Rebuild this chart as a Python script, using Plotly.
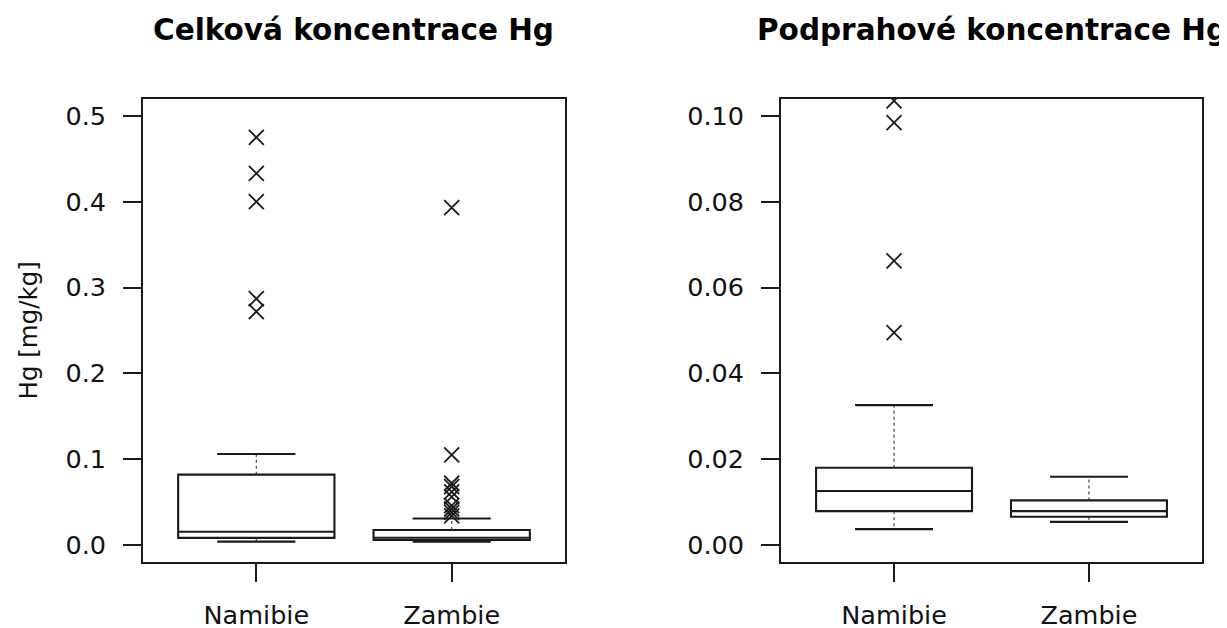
import plotly.graph_objects as go

# ---------------- data ----------------
categories = ["Namibie", "Zambie"]
cat_pos = [0, 1]

# Panel 1: Celková koncentrace Hg
total_q1 = [0.0084, 0.0058]
total_median = [0.0155, 0.0085]
total_q3 = [0.082, 0.0175]
total_lower = [0.004, 0.004]
total_upper = [0.106, 0.031]
total_out_namibie = [0.475, 0.433, 0.400, 0.287, 0.272]
total_out_zambie = [0.393, 0.105, 0.072, 0.068, 0.062, 0.056, 0.046, 0.042, 0.038, 0.034]

# Panel 2: Podprahové koncentrace Hg
sub_q1 = [0.0079, 0.0066]
sub_median = [0.0126, 0.0079]
sub_q3 = [0.0180, 0.0104]
sub_lower = [0.0037, 0.0054]
sub_upper = [0.0326, 0.0159]
sub_out_namibie = [0.1035, 0.0984, 0.0662, 0.0495]
sub_out_zambie = []

titles = ["Celková koncentrace Hg", "Podprahové koncentrace Hg"]
y_title = "Hg [mg/kg]"
total_ticks = [0.0, 0.1, 0.2, 0.3, 0.4, 0.5]
sub_ticks = [0.00, 0.02, 0.04, 0.06, 0.08, 0.10]

# ---------------- style ----------------
FONT = "DejaVu Sans"
INK = "#1a1a1a"
BOX_W = 0.8
STAPLE = 0.5
OFF = 8                      # page body margin (x)
OFFY = 6                     # effective vertical offset
W, H = 1227 - OFF, 628 - OFFY

fig = go.Figure()


def add_panel(xa, ya, q1, med, q3, lo, hi, out_n, out_z):
    fig.add_trace(go.Box(
        x=cat_pos, q1=q1, median=med, q3=q3, lowerfence=q1, upperfence=q3,
        width=BOX_W, whiskerwidth=0, fillcolor="white",
        line=dict(color=INK, width=2.1), boxpoints=False,
        xaxis=xa, yaxis=ya, showlegend=False, hoverinfo="skip"))
    # whiskers (dashed)
    wx, wy = [], []
    for p, a, b, c, d in zip(cat_pos, q1, q3, lo, hi):
        wx += [p, p, None, p, p, None]
        wy += [b, d, None, a, c, None]
    fig.add_trace(go.Scatter(x=wx, y=wy, mode="lines",
                             line=dict(color="#333", width=1.1, dash="dot"),
                             xaxis=xa, yaxis=ya, showlegend=False, hoverinfo="skip"))
    # staples
    sx, sy = [], []
    half = BOX_W * STAPLE / 2
    for p, c, d in zip(cat_pos, lo, hi):
        sx += [p - half, p + half, None, p - half, p + half, None]
        sy += [d, d, None, c, c, None]
    fig.add_trace(go.Scatter(x=sx, y=sy, mode="lines",
                             line=dict(color=INK, width=2.1),
                             xaxis=xa, yaxis=ya, showlegend=False, hoverinfo="skip"))
    # outliers
    ox = [cat_pos[0]] * len(out_n) + [cat_pos[1]] * len(out_z)
    oy = list(out_n) + list(out_z)
    fig.add_trace(go.Scatter(x=ox, y=oy, mode="markers",
                             marker=dict(symbol="x-thin-open", size=15, color=INK,
                                         line=dict(color=INK, width=1.8)),
                             xaxis=xa, yaxis=ya, showlegend=False, hoverinfo="skip"))


add_panel("x", "y", total_q1, total_median, total_q3, total_lower, total_upper,
          total_out_namibie, total_out_zambie)
add_panel("x2", "y2", sub_q1, sub_median, sub_q3, sub_lower, sub_upper,
          sub_out_namibie, sub_out_zambie)

dom1 = [(143 - OFF) / W, (565 - OFF) / W]
dom2 = [(781 - OFF) / W, (1202 - OFF) / W]
ydom = [1 - (562 - OFFY) / H, 1 - (97 - OFFY) / H]

axis_common = dict(showline=True, mirror=True, linecolor=INK, linewidth=1.8,
                   ticks="outside", ticklen=18, tickwidth=1.8, tickcolor=INK,
                   showgrid=False, zeroline=False,
                   tickfont=dict(family=FONT, size=25.5, color="#111"))

fig.update_layout(
    width=W, height=H,
    margin=dict(l=0, r=0, t=0, b=0),
    paper_bgcolor="white", plot_bgcolor="white",
    font=dict(family=FONT, color="#111"),
    xaxis=dict(domain=dom1, anchor="y", range=[-0.58, 1.58],
               tickvals=cat_pos, ticktext=categories, ticklabelstandoff=11, **axis_common),
    xaxis2=dict(domain=dom2, anchor="y2", range=[-0.58, 1.58],
                tickvals=cat_pos, ticktext=categories, ticklabelstandoff=11, **axis_common),
    yaxis=dict(domain=ydom, anchor="x", range=[-0.02, 0.52],
               tickvals=total_ticks, tickformat=".1f", ticklabelstandoff=12, **axis_common),
    yaxis2=dict(domain=ydom, anchor="x2", range=[-0.004, 0.104],
                tickvals=sub_ticks, tickformat=".2f", ticklabelstandoff=12, **axis_common),
)

for dom, t in zip([dom1, dom2], titles):
    fig.add_annotation(text="<b>%s</b>" % t, x=(dom[0] + dom[1]) / 2, y=1 - (30 - OFFY - 2) / H,
                       xref="paper", yref="paper", xanchor="center", yanchor="middle",
                       showarrow=False, font=dict(family=FONT, size=29.5, color="#000"))

fig.add_annotation(text=y_title, x=(28 - OFF) / W, y=(ydom[0] + ydom[1]) / 2,
                   xref="paper", yref="paper", xanchor="center", yanchor="middle",
                   textangle=-90, showarrow=False,
                   font=dict(family=FONT, size=24.5, color="#111"))

fig.write_html("out.html")
